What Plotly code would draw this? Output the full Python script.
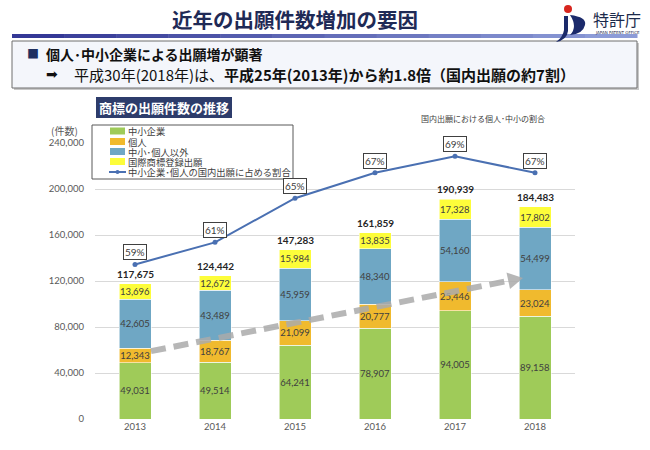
import plotly.graph_objects as go

# ---------------- data ----------------
years = ["2013", "2014", "2015", "2016", "2017", "2018"]
sme = [49031, 49514, 64241, 78907, 94005, 89158]          # 中小企業
individual = [12343, 18767, 21099, 20777, 25446, 23024]   # 個人
others = [42605, 43489, 45959, 48340, 54160, 54499]       # 中小・個人以外
madrid = [13696, 12672, 15984, 13835, 17328, 17802]       # 国際商標登録出願
ratio = [0.590, 0.610, 0.650, 0.673, 0.688, 0.673]        # 中小企業・個人の国内出願に占める割合

series_names = ["中小企業", "個人", "中小･個人以外", "国際商標登録出願"]
series_vals = [sme, individual, others, madrid]
series_cols = ["#9FCB59", "#F0BA2E", "#6FA7C4", "#FDFD3A"]
line_name = "中小企業･個人の国内出願に占める割合"
line_col = "#4A70B2"

totals = [sum(v) for v in zip(*series_vals)]

# ---------------- geometry helpers (pixel -> paper) ----------------
W, H = 650, 450
L, R, T, B = 95, 575, 143, 419
def X(px):
    return (px - L) / (R - L)
def Y(py):
    return (B - py) / (B - T)

JP = "Noto Sans CJK JP"
NUM = "Lato, Noto Sans CJK JP"

fig = go.Figure()

for name, vals, col in zip(series_names, series_vals, series_cols):
    fig.add_trace(go.Bar(
        x=years, y=vals, name=name,
        marker=dict(color=col, line=dict(color="rgba(255,255,255,0.7)", width=0.8)),
        texttemplate="%{y:,}", textposition="inside", insidetextanchor="middle",
        textangle=0, constraintext="none",
        textfont=dict(family=NUM, size=9.5, color="#404040"),
        showlegend=False, hoverinfo="skip",
    ))

# ratio line
fig.add_trace(go.Scatter(
    x=years, y=ratio, yaxis="y2", mode="lines+markers", name=line_name,
    line=dict(color=line_col, width=2), marker=dict(color=line_col, size=5),
    showlegend=False, hoverinfo="skip",
))

annotations = []
shapes = []

# totals above stacks
for i, t in enumerate(totals):
    annotations.append(dict(
        x=i, y=t, xref="x", yref="y", text=f"<b>{t:,}</b>",
        showarrow=False, yanchor="middle", yshift=10,
        font=dict(family=NUM, size=10, color="#262626"),
    ))

# boxed percentage labels (x given as category index)
for i, r in enumerate(ratio):
    annotations.append(dict(
        x=i, y=r, xref="x", yref="y2", text=f"{round(r*100)}%",
        showarrow=False, yanchor="bottom", yshift=4,
        bordercolor="#404040", borderwidth=1, borderpad=1, bgcolor="white",
        font=dict(family=NUM, size=10, color="#404040"),
    ))

# grey dashed trend arrow (decoration)
shapes.append(dict(type="line", xref="x", yref="y", x0=0.2, y0=59000, x1=4.68, y1=120300,
                   line=dict(color="rgba(170,170,170,0.85)", width=6, dash="15px,8px"), layer="above"))
shapes.append(dict(type="path", xref="x", yref="y", xsizemode="pixel", ysizemode="pixel",
                   xanchor=4.85, yanchor=122600,
                   path="M0,0 L-16.5,5.5 L-13,-11 Z",
                   fillcolor="rgba(170,170,170,0.85)", line=dict(width=0), layer="above"))

# ---------- custom legend ----------
shapes.append(dict(type="rect", xref="paper", yref="paper",
                   x0=X(92), x1=X(293), y0=Y(179), y1=Y(125),
                   line=dict(color="#595959", width=1), fillcolor="white", layer="above"))
leg_y = [131, 141.5, 151.5, 161.5, 172]
for i, (name, col) in enumerate(zip(series_names, series_cols)):
    yy = leg_y[i]
    shapes.append(dict(type="rect", xref="paper", yref="paper",
                       x0=X(110), x1=X(125), y0=Y(yy + 3.5), y1=Y(yy - 3.5),
                       line=dict(width=0), fillcolor=col, layer="above"))
    annotations.append(dict(x=X(126), y=Y(yy), xref="paper", yref="paper", text=name,
                            showarrow=False, xanchor="left", yanchor="middle",
                            font=dict(family=JP, size=9.3, color="#404040")))
yy = leg_y[4]
shapes.append(dict(type="line", xref="paper", yref="paper", x0=X(109), x1=X(126), y0=Y(yy), y1=Y(yy),
                   line=dict(color=line_col, width=2), layer="above"))
shapes.append(dict(type="circle", xref="paper", yref="paper", x0=X(115.5), x1=X(119.5), y0=Y(yy + 2), y1=Y(yy - 2),
                   line=dict(width=0), fillcolor=line_col, layer="above"))
annotations.append(dict(x=X(126), y=Y(yy), xref="paper", yref="paper", text=line_name,
                        showarrow=False, xanchor="left", yanchor="middle",
                        font=dict(family=JP, size=9.3, color="#404040")))

# (件数)
annotations.append(dict(x=X(80), y=Y(130), xref="paper", yref="paper", text="(件数)",
                        showarrow=False, xanchor="right", yanchor="middle",
                        font=dict(family=JP, size=10, color="#595959")))
# right note
annotations.append(dict(x=X(483), y=Y(118), xref="paper", yref="paper", text="国内出願における個人･中小の割合",
                        showarrow=False, xanchor="center", yanchor="middle",
                        font=dict(family=JP, size=8, color="#404040")))

# ---------- page header ----------
annotations.append(dict(x=X(295), y=Y(19), xref="paper", yref="paper", text="<b>近年の出願件数増加の要因</b>",
                        showarrow=False, xanchor="center", yanchor="middle",
                        font=dict(family=JP, size=20.5, color="#1F2A56")))
# gradient bar
n = 12
x_start, x_end = 12, 637
c0 = (52, 56, 150); c1 = (140, 155, 215)
for i in range(n):
    t = i / (n - 1)
    c = tuple(int(c0[k] + (c1[k] - c0[k]) * t) for k in range(3))
    shapes.append(dict(type="rect", xref="paper", yref="paper",
                       x0=X(x_start + (x_end - x_start) * i / n), x1=X(x_start + (x_end - x_start) * (i + 1) / n + 0.5),
                       y0=Y(38), y1=Y(34), line=dict(width=0), fillcolor=f"rgb{c}", layer="above"))
# header box shadow + box
shapes.append(dict(type="rect", xref="paper", yref="paper", x0=X(14), x1=X(639), y0=Y(90), y1=Y(43),
                   line=dict(width=0), fillcolor="#C8C8C8", layer="above"))
shapes.append(dict(type="rect", xref="paper", yref="paper", x0=X(12), x1=X(637), y0=Y(88), y1=Y(41),
                   line=dict(color="#6E6E6E", width=1), fillcolor="#F4F6FB", layer="above"))
annotations.append(dict(x=X(25), y=Y(54), xref="paper", yref="paper", text="■",
                        showarrow=False, xanchor="left", yanchor="middle",
                        font=dict(family=JP, size=12, color="#1F3060")))
annotations.append(dict(x=X(44), y=Y(54), xref="paper", yref="paper", text="<b>個人･中小企業による出願増が顕著</b>",
                        showarrow=False, xanchor="left", yanchor="middle",
                        font=dict(family=JP, size=14, color="#111111")))
annotations.append(dict(x=X(44), y=Y(74), xref="paper", yref="paper", text="➡",
                        showarrow=False, xanchor="left", yanchor="middle",
                        font=dict(family="DejaVu Sans", size=14, color="#111111")))
annotations.append(dict(x=X(72), y=Y(74), xref="paper", yref="paper",
                        text="平成30年(2018年)は、<b>平成25年(2013年)から約1.8倍（国内出願の約7割）</b>",
                        showarrow=False, xanchor="left", yanchor="middle",
                        font=dict(family=JP, size=15, color="#111111")))
# sub-title box
shapes.append(dict(type="rect", xref="paper", yref="paper", x0=X(96), x1=X(232), y0=Y(118), y1=Y(97),
                   line=dict(width=0), fillcolor="#2D3C6B", layer="above"))
annotations.append(dict(x=X(164), y=Y(107.5), xref="paper", yref="paper", text="<b>商標の出願件数の推移</b>",
                        showarrow=False, xanchor="center", yanchor="middle",
                        font=dict(family=JP, size=13, color="white")))

# logo (JPO)
shapes.append(dict(type="circle", xref="paper", yref="paper", x0=X(564), x1=X(572), y0=Y(13), y1=Y(5),
                   line=dict(width=0), fillcolor="#D7261E", layer="above"))
shapes.append(dict(type="path", xref="paper", yref="paper",
                   path=f"M{X(564)},{Y(16)} L{X(568)},{Y(16)} L{X(568)},{Y(31)} Q{X(567)},{Y(40)} {X(556)},{Y(42)} "
                        f"Q{X(563)},{Y(37)} {X(564)},{Y(30)} Z",
                   line=dict(width=0), fillcolor="#1B2A6B", layer="above"))
shapes.append(dict(type="path", xref="paper", yref="paper",
                   path=f"M{X(570)},{Y(15)} Q{X(587)},{Y(17)} {X(585)},{Y(25)} Q{X(583)},{Y(34)} {X(570)},{Y(35)} "
                        f"Q{X(578)},{Y(27)} {X(570)},{Y(15)} Z",
                   line=dict(width=0), fillcolor="#1B2A6B", layer="above"))
annotations.append(dict(x=X(617), y=Y(19), xref="paper", yref="paper", text="特許庁",
                        showarrow=False, xanchor="center", yanchor="middle",
                        font=dict(family=JP, size=16, color="#1B2A4B")))
annotations.append(dict(x=X(617), y=Y(32), xref="paper", yref="paper", text="JAPAN PATENT OFFICE",
                        showarrow=False, xanchor="center", yanchor="middle",
                        font=dict(family="DejaVu Sans", size=4, color="#1B2A4B")))

fig.update_layout(
    width=W, height=H,
    margin=dict(l=L, r=W - R, t=T, b=H - B, pad=0, autoexpand=False),
    paper_bgcolor="white", plot_bgcolor="white",
    barmode="stack", bargap=0.6,
    font=dict(family=NUM, color="#595959"),
    xaxis=dict(type="category", range=[-0.5, 5.5], showgrid=False, showline=False, ticks="",
               automargin=False, tickfont=dict(family=NUM, size=9.5, color="#595959")),
    yaxis=dict(range=[0, 240000], dtick=40000, tickformat=",", showgrid=True, gridcolor="#D9D9D9",
               gridwidth=1, zeroline=False, showline=False, ticks="", ticklabelstandoff=10,
               automargin=False, tickfont=dict(family=NUM, size=9.5, color="#595959")),
    yaxis2=dict(range=[0.45, 0.70], overlaying="y", visible=False),
    shapes=shapes, annotations=annotations,
)

fig.write_html("out.html", config={"displayModeBar": False},
               post_script="document.body.style.margin='0';")
